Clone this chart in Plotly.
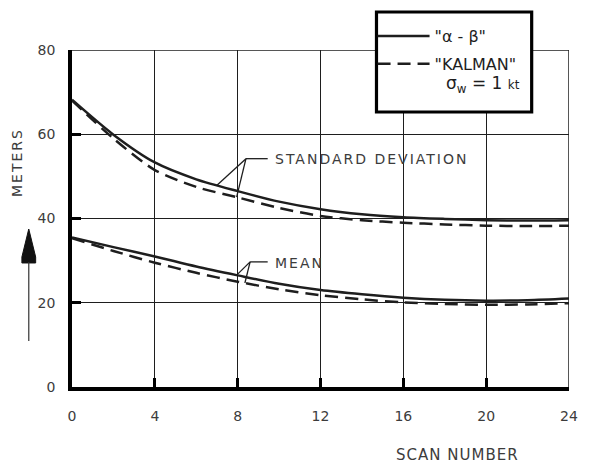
import numpy as np
import plotly.graph_objects as go

# Scan number and error statistics (meters) for the two trackers
scan = [0, 2, 4, 6, 8, 10, 12, 14, 16, 18, 20, 22, 24]
std_alpha_beta = [68.2, 59.9, 53.3, 49.3, 46.5, 44.0, 42.2, 41.0, 40.3, 39.9, 39.6, 39.5, 39.6]
std_kalman = [68.0, 59.0, 51.5, 47.5, 45.0, 42.5, 40.6, 39.6, 39.0, 38.6, 38.3, 38.2, 38.3]
mean_alpha_beta = [35.5, 33.2, 31.0, 28.6, 26.5, 24.5, 23.0, 22.0, 21.2, 20.7, 20.5, 20.6, 21.0]
mean_kalman = [35.3, 32.3, 29.5, 27.1, 25.0, 23.2, 21.8, 20.8, 20.1, 19.7, 19.5, 19.6, 19.9]

x_ticks = [0, 4, 8, 12, 16, 20, 24]
y_ticks = [0, 20, 40, 60, 80]

W, H = 590, 465
L, R, T, B = 72, 12, 50, 78
PW, PH = W - L - R, H - T - B

FONT = "DejaVu Sans"
INK = "#1e1e1e"
TXT = "#3c3c3c"


def xp(px):
    """pixel column -> paper x"""
    return (px - L) / PW


def yp(py):
    """pixel row -> paper y"""
    return (H - B - py) / PH


def spaced(text, px):
    return f"<span style='letter-spacing:{px}px'>{text}</span>"


fig = go.Figure()

line_style = dict(color=INK, width=2.5, shape="spline", smoothing=0.8)
dash_style = dict(color=INK, width=2.5, shape="spline", smoothing=0.8, dash="13px,7px")

fig.add_trace(go.Scatter(x=scan, y=std_alpha_beta, mode="lines", line=line_style,
                         name='"\u03b1 - \u03b2"', legendgroup="ab", showlegend=True))
fig.add_trace(go.Scatter(x=scan, y=std_kalman, mode="lines", line=dash_style,
                         name='"KALMAN"', legendgroup="k", showlegend=True))
fig.add_trace(go.Scatter(x=scan, y=mean_alpha_beta, mode="lines", line=line_style,
                         name='"\u03b1 - \u03b2"', legendgroup="ab", showlegend=False))
fig.add_trace(go.Scatter(x=scan, y=mean_kalman, mode="lines", line=dash_style,
                         name='"KALMAN"', legendgroup="k", showlegend=False))

shapes = []
# top and right frame
shapes.append(dict(type="line", xref="x", yref="y", x0=0, x1=24, y0=80, y1=80,
                   line=dict(color=INK, width=1.5)))
shapes.append(dict(type="line", xref="x", yref="y", x0=24, x1=24, y0=0, y1=80,
                   line=dict(color=INK, width=1.5)))


# leader lines from the curve labels to the curves
def leader(knee_x, knee_y, end_x, targets):
    segs = [dict(type="line", xref="x", yref="y", x0=knee_x, y0=knee_y, x1=end_x, y1=knee_y,
                 line=dict(color=INK, width=1.3))]
    for tx, series in targets:
        ty = float(np.interp(tx, scan, series))
        segs.append(dict(type="line", xref="x", yref="y", x0=knee_x, y0=knee_y, x1=tx, y1=ty,
                         line=dict(color=INK, width=1.3)))
    return segs


shapes += leader(8.4, 54.2, 9.45, [(7.0, std_alpha_beta), (7.95, std_kalman)])
shapes += leader(8.6, 29.7, 9.45, [(7.95, mean_alpha_beta), (8.35, mean_kalman)])

# legend box
shapes.append(dict(type="rect", xref="paper", yref="paper",
                   x0=xp(382), x1=xp(540), y0=yp(112), y1=yp(12),
                   fillcolor="white", line=dict(color="black", width=3.2)))

# upward arrow beside the y-axis title
ax_x = 28
head = [(ax_x, 229), (ax_x + 7, 257), (ax_x + 7, 263), (ax_x - 7, 263), (ax_x - 7, 257)]
path = "M " + " L ".join(f"{xp(a):.4f},{yp(b):.4f}" for a, b in head) + " Z"
shapes.append(dict(type="path", xref="paper", yref="paper", path=path,
                   fillcolor="#111", line=dict(color="#111", width=1)))
shapes.append(dict(type="line", xref="paper", yref="paper",
                   x0=xp(ax_x), x1=xp(ax_x), y0=yp(262), y1=yp(341),
                   line=dict(color="#333", width=1.2)))

annotations = [
    dict(text=spaced("STANDARD DEVIATION", 2), x=9.7, y=54.2, xref="x", yref="y",
         xanchor="left", yanchor="middle", showarrow=False,
         font=dict(family=FONT, size=14, color=TXT)),
    dict(text=spaced("MEAN", 2), x=9.7, y=29.4, xref="x", yref="y",
         xanchor="left", yanchor="middle", showarrow=False,
         font=dict(family=FONT, size=14, color=TXT)),
    dict(text=spaced("METERS", 2), x=xp(16), y=yp(162), xref="paper", yref="paper",
         textangle=-90, xanchor="center", yanchor="middle", showarrow=False,
         font=dict(family=FONT, size=14, color=TXT)),
    dict(text=spaced("SCAN NUMBER", 1), x=xp(464), y=yp(455), xref="paper", yref="paper",
         xanchor="center", yanchor="middle", showarrow=False,
         font=dict(family=FONT, size=15, color=TXT)),
    dict(text="\u03c3<sub>w</sub> = 1 <span style='font-size:12px'>kt</span>",
         x=xp(490), y=yp(84), xref="paper", yref="paper",
         xanchor="center", yanchor="middle", showarrow=False,
         font=dict(family=FONT, size=17, color=INK)),
]

fig.update_layout(
    width=W, height=H,
    margin=dict(l=L, r=R, t=T, b=B, pad=0),
    paper_bgcolor="white", plot_bgcolor="white",
    font=dict(family=FONT, size=14, color=TXT),
    shapes=shapes,
    annotations=annotations,
    legend=dict(x=xp(378), y=yp(19), xanchor="left", yanchor="top",
                bgcolor="rgba(0,0,0,0)", borderwidth=0, tracegroupgap=4,
                itemwidth=52,
                font=dict(family=FONT, size=16, color=INK)),
)

fig.update_xaxes(range=[0, 24], tickvals=x_ticks, ticktext=[str(v) for v in x_ticks],
                 showgrid=True, gridcolor=INK, gridwidth=1,
                 showline=True, linecolor="black", linewidth=3.5,
                 ticks="inside", ticklen=9, tickwidth=3, tickcolor="black",
                 ticklabelstandoff=13, zeroline=False,
                 tickfont=dict(family=FONT, size=14, color=TXT))
fig.update_yaxes(range=[0, 80], tickvals=y_ticks, ticktext=[str(v) for v in y_ticks],
                 showgrid=True, gridcolor=INK, gridwidth=1,
                 showline=True, linecolor="black", linewidth=3.5,
                 ticks="inside", ticklen=9, tickwidth=3, tickcolor="black",
                 ticklabelstandoff=10, zeroline=False,
                 tickfont=dict(family=FONT, size=14, color=TXT))

fig.write_html("out.html")
